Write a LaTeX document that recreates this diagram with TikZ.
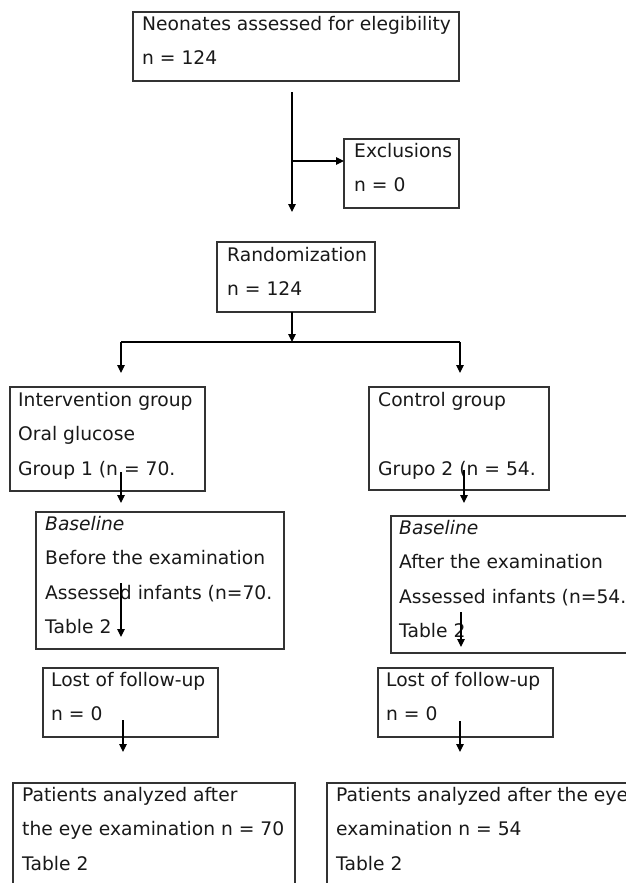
\documentclass[tikz,border=0pt]{standalone}
\usepackage{fontspec}
\setmainfont{DejaVu Sans}
\usetikzlibrary{arrows.meta}
\begin{document}
\begin{tikzpicture}[x=1pt,y=-1pt,
  box/.style={draw=black!80, line width=1.3pt, anchor=north west, inner sep=0pt, outer sep=0pt},
  txt/.style={anchor=north west, inner sep=0pt, align=left, font=\fontsize{18.7}{34.3}\selectfont, text=black!90, execute at begin node={\rule{0pt}{15pt}}},
  arr/.style={line width=1.1pt, -{Triangle[length=8pt,width=7.5pt]}},
  ln/.style={line width=1.1pt}]
\clip (0,0) rectangle (626,883);
\fill[white] (0,0) rectangle (626,883);
% boxes
\node[box, minimum width=326pt, minimum height=69pt] (elig) at (133,12) {};
\node[box, minimum width=115pt, minimum height=69pt] (excl) at (344,139) {};
\node[box, minimum width=158pt, minimum height=70pt] (rand) at (217,242) {};
\node[box, minimum width=195pt, minimum height=104pt] (intv) at (10,387) {};
\node[box, minimum width=180pt, minimum height=103pt] (ctrl) at (369,387) {};
\node[box, minimum width=248pt, minimum height=137pt] (basl) at (36,512) {};
\node[box, minimum width=249pt, minimum height=137pt] (basr) at (391,516) {};
\node[box, minimum width=175pt, minimum height=69pt] (lostl) at (43,668) {};
\node[box, minimum width=175pt, minimum height=69pt] (lostr) at (378,668) {};
\node[box, minimum width=282pt, minimum height=117pt] (patl) at (13,783) {};
\node[box, minimum width=313pt, minimum height=117pt] (patr) at (327,783) {};
% texts (top = first baseline - 15)
\node[txt] (eligT) at (142,16) {Neonates assessed for elegibility\\n = 124};
\node[txt] (exclT) at (354,143) {Exclusions\\n = 0};
\node[txt] (randT) at (227,247) {Randomization\\n = 124};
\node[txt] (intvT) at (18,392) {Intervention group\\Oral glucose\\Group 1 (n = 70.};
\node[txt] (ctrlT) at (378,392) {Control group\\\mbox{}\\Grupo 2 (n = 54.};
\node[txt] (baslT) at (45,516) {\textit{Baseline}\\Before the examination\\Assessed infants (n=70.\\Table 2};
\node[txt] (basrT) at (399,520) {\textit{Baseline}\\After the examination\\Assessed infants (n=54.\\Table 2};
\node[txt] (lostlT) at (51,672) {Lost of follow-up\\n = 0};
\node[txt] (lostrT) at (386,672) {Lost of follow-up\\n = 0};
\node[txt] (patlT) at (22,787) {Patients analyzed after\\the eye examination n = 70\\Table 2};
\node[txt] (patrT) at (336,787) {Patients analyzed after the eye\\examination n = 54\\Table 2};
% connector coordinates
\coordinate (a1) at (292,92);
\coordinate (a2) at (292,212);
\coordinate (br) at (292,161);
\coordinate (r1) at (292,312);
\coordinate (r2) at (292,342);
\coordinate (sl) at (121,342);
\coordinate (sr) at (460,342);
\coordinate (sl2) at (121,373);
\coordinate (sr2) at (460,373);
\coordinate (i1) at (121,472);
\coordinate (i2) at (121,503);
\coordinate (c1) at (464,470);
\coordinate (c2) at (464,503);
\coordinate (bl1) at (121,583);
\coordinate (bl2) at (121,637);
\coordinate (br1) at (461,612);
\coordinate (br2) at (461,647);
\coordinate (ll1) at (123,720);
\coordinate (ll2) at (123,752);
\coordinate (lr1) at (460,721);
\coordinate (lr2) at (460,752);
% connectors
\draw[arr] (a1) -- (a2);
\draw[arr] (br) -- (br -| excl.west);
\draw[arr] (r1) -- (r2);
\draw[ln] (sl) -- (sr);
\draw[arr] (sl) -- (sl2);
\draw[arr] (sr) -- (sr2);
\draw[arr] (i1) -- (i2);
\draw[arr] (c1) -- (c2);
\draw[arr] (bl1) -- (bl2);
\draw[arr] (br1) -- (br2);
\draw[arr] (ll1) -- (ll2);
\draw[arr] (lr1) -- (lr2);
\end{tikzpicture}
\end{document}
